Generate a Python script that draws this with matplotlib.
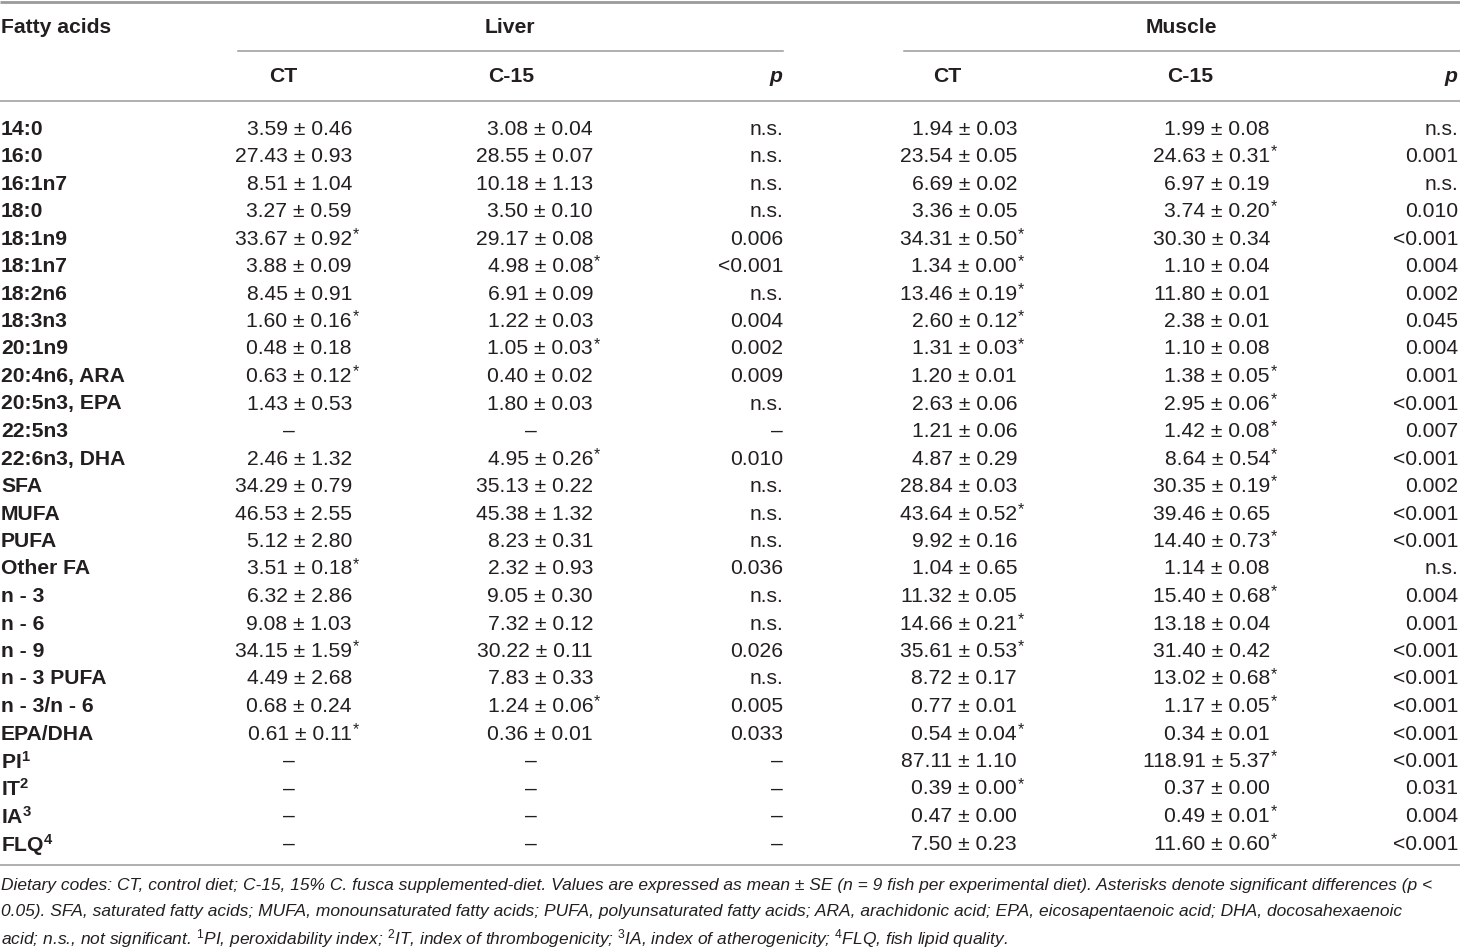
import matplotlib
matplotlib.use("Agg")
import matplotlib.pyplot as plt
from matplotlib import font_manager

names = {f.name for f in font_manager.fontManager.ttflist}
FAM = "Liberation Sans Narrow" if "Liberation Sans Narrow" in names else "Liberation Sans"
plt.rcParams['font.family'] = [FAM, 'DejaVu Sans']
plt.rcParams['mathtext.fontset'] = 'custom'
plt.rcParams['mathtext.rm'] = FAM
plt.rcParams['mathtext.it'] = FAM + ':italic'
plt.rcParams['mathtext.bf'] = FAM + ':bold'

# ---- data ----
labels = ["14:0", "16:0", "16:1n7", "18:0", "18:1n9", "18:1n7", "18:2n6", "18:3n3",
          "20:1n9", "20:4n6, ARA", "20:5n3, EPA", "22:5n3", "22:6n3, DHA", "SFA",
          "MUFA", "PUFA", "Other FA", "n - 3", "n - 6", "n - 9", "n - 3 PUFA",
          "n - 3/n - 6", "EPA/DHA", "PI", "IT", "IA", "FLQ"]
label_sup = [""] * 23 + ["1", "2", "3", "4"]

liver_ct = ["3.59 ± 0.46", "27.43 ± 0.93", "8.51 ± 1.04", "3.27 ± 0.59", "33.67 ± 0.92*",
            "3.88 ± 0.09", "8.45 ± 0.91", "1.60 ± 0.16*", "0.48 ± 0.18", "0.63 ± 0.12*",
            "1.43 ± 0.53", "–", "2.46 ± 1.32", "34.29 ± 0.79", "46.53 ± 2.55",
            "5.12 ± 2.80", "3.51 ± 0.18*", "6.32 ± 2.86", "9.08 ± 1.03", "34.15 ± 1.59*",
            "4.49 ± 2.68", "0.68 ± 0.24", "0.61 ± 0.11*", "–", "–", "–", "–"]
liver_c15 = ["3.08 ± 0.04", "28.55 ± 0.07", "10.18 ± 1.13", "3.50 ± 0.10", "29.17 ± 0.08",
             "4.98 ± 0.08*", "6.91 ± 0.09", "1.22 ± 0.03", "1.05 ± 0.03*", "0.40 ± 0.02",
             "1.80 ± 0.03", "–", "4.95 ± 0.26*", "35.13 ± 0.22", "45.38 ± 1.32",
             "8.23 ± 0.31", "2.32 ± 0.93", "9.05 ± 0.30", "7.32 ± 0.12", "30.22 ± 0.11",
             "7.83 ± 0.33", "1.24 ± 0.06*", "0.36 ± 0.01", "–", "–", "–", "–"]
liver_p = ["n.s.", "n.s.", "n.s.", "n.s.", "0.006", "<0.001", "n.s.", "0.004", "0.002",
           "0.009", "n.s.", "–", "0.010", "n.s.", "n.s.", "n.s.", "0.036", "n.s.", "n.s.",
           "0.026", "n.s.", "0.005", "0.033", "–", "–", "–", "–"]
muscle_ct = ["1.94 ± 0.03", "23.54 ± 0.05", "6.69 ± 0.02", "3.36 ± 0.05", "34.31 ± 0.50*",
             "1.34 ± 0.00*", "13.46 ± 0.19*", "2.60 ± 0.12*", "1.31 ± 0.03*", "1.20 ± 0.01",
             "2.63 ± 0.06", "1.21 ± 0.06", "4.87 ± 0.29", "28.84 ± 0.03", "43.64 ± 0.52*",
             "9.92 ± 0.16", "1.04 ± 0.65", "11.32 ± 0.05", "14.66 ± 0.21*", "35.61 ± 0.53*",
             "8.72 ± 0.17", "0.77 ± 0.01", "0.54 ± 0.04*", "87.11 ± 1.10", "0.39 ± 0.00*",
             "0.47 ± 0.00", "7.50 ± 0.23"]
muscle_c15 = ["1.99 ± 0.08", "24.63 ± 0.31*", "6.97 ± 0.19", "3.74 ± 0.20*", "30.30 ± 0.34",
              "1.10 ± 0.04", "11.80 ± 0.01", "2.38 ± 0.01", "1.10 ± 0.08", "1.38 ± 0.05*",
              "2.95 ± 0.06*", "1.42 ± 0.08*", "8.64 ± 0.54*", "30.35 ± 0.19*", "39.46 ± 0.65",
              "14.40 ± 0.73*", "1.14 ± 0.08", "15.40 ± 0.68*", "13.18 ± 0.04", "31.40 ± 0.42",
              "13.02 ± 0.68*", "1.17 ± 0.05*", "0.34 ± 0.01", "118.91 ± 5.37*", "0.37 ± 0.00",
              "0.49 ± 0.01*", "11.60 ± 0.60*"]
muscle_p = ["n.s.", "0.001", "n.s.", "0.010", "<0.001", "0.004", "0.002", "0.045", "0.004",
            "0.001", "<0.001", "0.007", "<0.001", "0.002", "<0.001", "<0.001", "n.s.",
            "0.004", "0.001", "<0.001", "<0.001", "<0.001", "<0.001", "<0.001", "0.031",
            "0.004", "<0.001"]

groups = ["Liver", "Muscle"]
subheads = ["CT", "C-15", "p"]
first_col = "Fatty acids"

footnote = [
    "Dietary codes: CT, control diet; C-15, 15% C. fusca supplemented-diet. Values are expressed as mean ± SE (n = 9 fish per experimental diet). Asterisks denote significant differences (p <",
    "0.05). SFA, saturated fatty acids; MUFA, monounsaturated fatty acids; PUFA, polyunsaturated fatty acids; ARA, arachidonic acid; EPA, eicosapentaenoic acid; DHA, docosahexaenoic",
    "acid; n.s., not significant. $^{1}$PI, peroxidability index; $^{2}$IT, index of thrombogenicity; $^{3}$IA, index of atherogenicity; $^{4}$FLQ, fish lipid quality.",
]

# ---- layout ----
W, H = 1460, 948
fig = plt.figure(figsize=(W / 100, H / 100), dpi=100)
ax = fig.add_axes([0, 0, 1, 1])
ax.set_xlim(0, W)
ax.set_ylim(H, 0)
ax.axis("off")

TXT = "#231f20"
LINE = "#9a9a9a"
FS = 15.2

# rules
ax.plot([0, W], [2, 2], color=LINE, lw=2.0, solid_capstyle="butt")
ax.plot([238, 783], [51, 51], color=LINE, lw=1.1)
ax.plot([904, W], [51, 51], color=LINE, lw=1.1)
ax.plot([0, W], [101, 101], color=LINE, lw=1.1)
ax.plot([0, W], [865, 865], color=LINE, lw=1.1)

# headers
ax.text(1, 27, first_col, fontsize=FS, fontweight="bold", color=TXT, ha="left", va="center")
ax.text(510, 27, groups[0], fontsize=FS, fontweight="bold", color=TXT, ha="center", va="center")
ax.text(1181, 27, groups[1], fontsize=FS, fontweight="bold", color=TXT, ha="center", va="center")
head_x = [(283, "center"), (511, "center"), (782, "right"),
          (947, "center"), (1190, "center"), (1457, "right")]
for (x, ha), h in zip(head_x, subheads * 2):
    ax.text(x, 76, h, fontsize=FS, fontweight="bold", color=TXT, ha=ha, va="center",
            style="italic" if h == "p" else "normal")

# columns: right edge of value, and dash center
cols = [(liver_ct, 352, 289), (liver_c15, 593, 531), (liver_p, 783, 777),
        (muscle_ct, 1017, 962), (muscle_c15, 1270, 1214), (muscle_p, 1458, 1452)]

y0, dy = 127, 27.5
for i, lab in enumerate(labels):
    y = y0 + i * dy
    s = lab + (f"$^{{\\mathbf{{{label_sup[i]}}}}}$" if label_sup[i] else "")
    ax.text(1, y, s, fontsize=FS, fontweight="bold", color=TXT, ha="left", va="center_baseline")
    for vals, xr, xd in cols:
        v = vals[i]
        if v == "–":
            ax.text(xd, y, v, fontsize=FS, color=TXT, ha="center", va="center_baseline")
            continue
        star = v.endswith("*")
        core = v.rstrip("*")
        ax.text(xr, y, core, fontsize=FS, color=TXT, ha="right", va="center_baseline")
        if star:
            ax.text(xr + 1, y - 4, "*", fontsize=FS * 0.75, color=TXT, ha="left",
                    va="center_baseline")

for j, line in enumerate(footnote):
    ax.text(1, 884 + j * 26, line, fontsize=12.5, style="italic", color=TXT,
            ha="left", va="center_baseline")

fig.savefig("out.png", dpi=100)
